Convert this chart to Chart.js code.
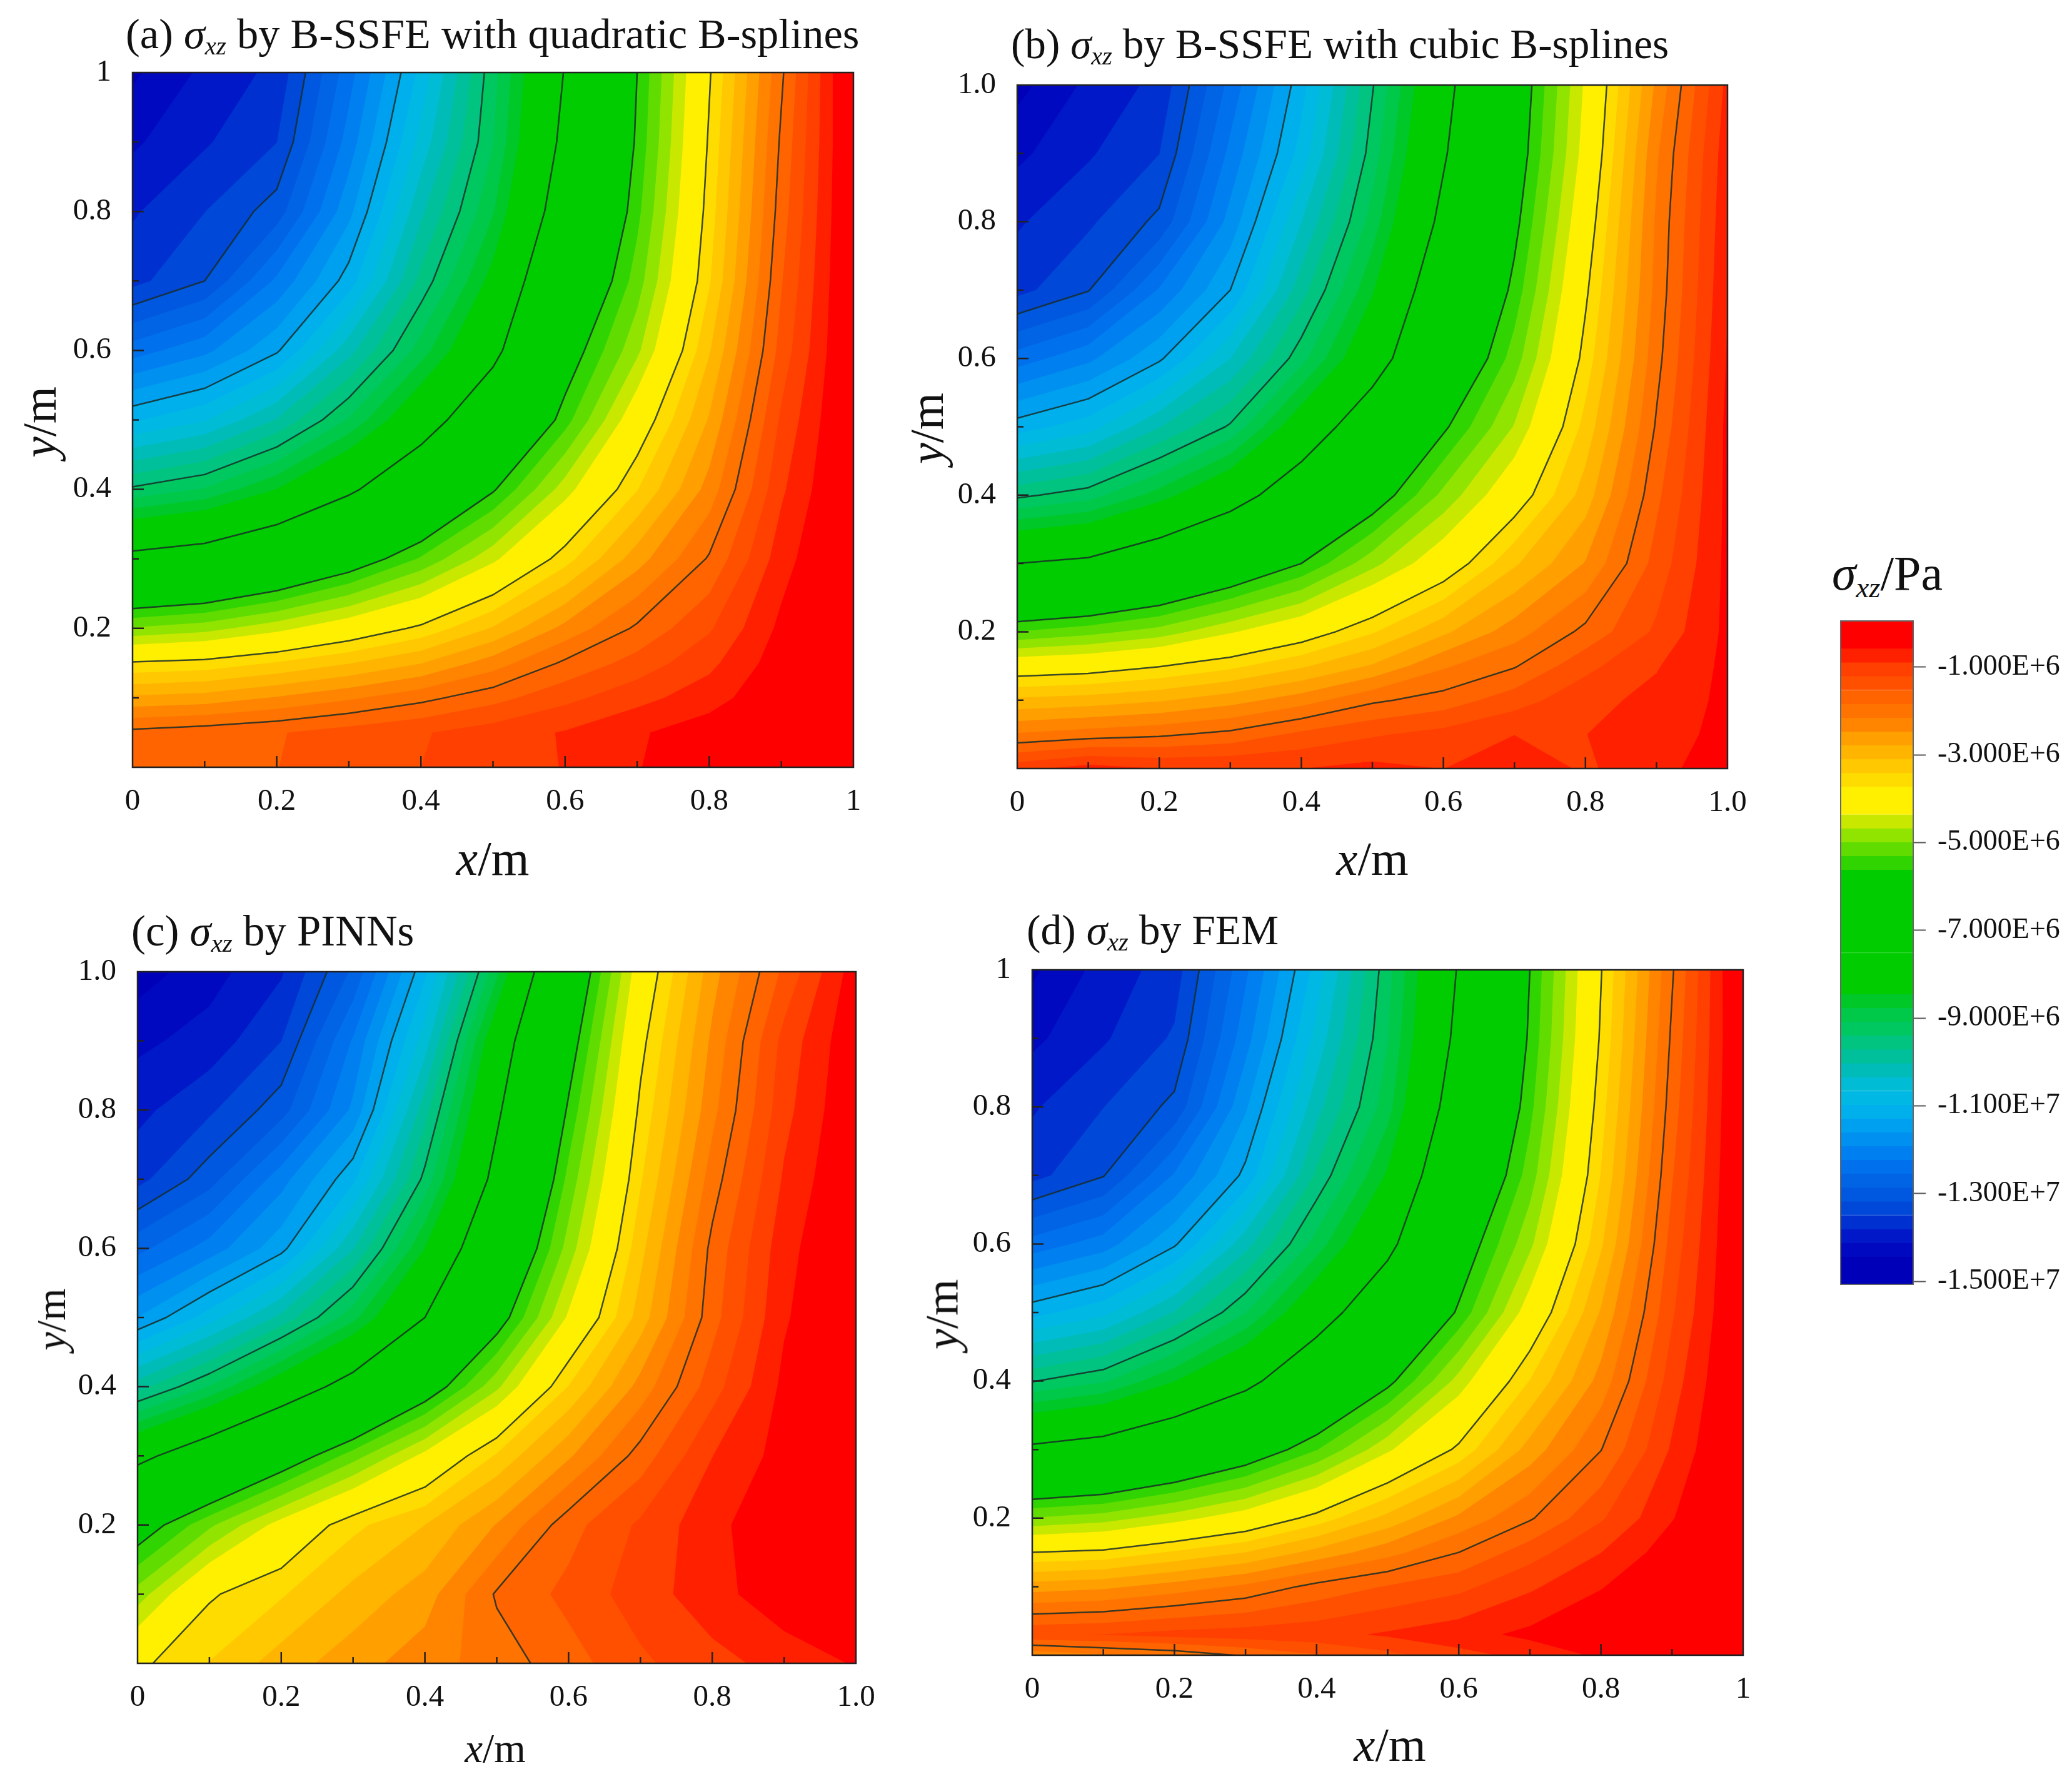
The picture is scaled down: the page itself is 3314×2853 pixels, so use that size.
<!DOCTYPE html>
<html>
<head>
<meta charset="utf-8">
<title>sigma_xz contours</title>
<script src="https://cdn.jsdelivr.net/npm/chart.js@4/dist/chart.umd.min.js"></script>
<style>
    html, body { margin: 0; background: #fff; }
    #page { position: relative; width: 3314px; height: 2853px; overflow: hidden; font-family: "Liberation Serif", serif; color: #111; }
    canvas { position: absolute; }
    .txt { position: absolute; line-height: 1; white-space: nowrap; }
    .txt sub { font-size: 0.6em; line-height: 0; vertical-align: -0.25em; }
</style>
</head>
<body>
<div id="page"></div>
<script>
// grid of sigma_xz, unit 1E6 Pa, rows run from y = 0 up to y = 1
const gridX = [0, 0.1, 0.2, 0.3, 0.4, 0.5, 0.6, 0.7, 0.8, 0.9, 1];

const rowsA = [0, 0.05, 0.1, 0.15, 0.2, 0.3, 0.4, 0.5, 0.6, 0.7, 0.8, 0.9, 1];
const sigmaA = [
    [-1.70, -1.62, -1.53, -1.37, -1.21, -1.05, -0.88, -0.60, -0.30, -0.10, 0],
    [-1.75, -1.65, -1.55, -1.38, -1.24, -1.05, -0.87, -0.62, -0.40, -0.20, 0],
    [-2.72, -2.65, -2.44, -2.21, -1.94, -1.64, -1.30, -1.00, -0.72, -0.30, -0.02],
    [-3.69, -3.61, -3.39, -3.12, -2.80, -2.31, -1.78, -1.40, -0.98, -0.40, -0.03],
    [-4.96, -4.80, -4.47, -4.07, -3.65, -3.07, -2.37, -1.78, -1.25, -0.50, -0.05],
    [-7.28, -7.07, -6.60, -5.99, -5.26, -4.44, -3.55, -2.61, -1.80, -0.72, -0.05],
    [-9.34, -9.05, -8.45, -7.65, -6.73, -5.67, -4.51, -3.43, -2.34, -0.95, -0.08],
    [-11.02, -10.69, -10.01, -9.05, -7.95, -6.75, -5.44, -4.05, -2.75, -1.15, -0.10],
    [-12.39, -12.01, -11.34, -10.15, -8.93, -7.75, -5.94, -4.75, -3.13, -1.40, -0.10],
    [-13.60, -13.18, -12.17, -11.14, -9.62, -8.30, -6.50, -5.15, -3.45, -1.55, -0.10],
    [-13.85, -13.50, -13.03, -11.70, -10.10, -8.80, -7.00, -5.40, -3.58, -1.68, -0.10],
    [-14.18, -13.85, -13.50, -12.10, -10.55, -9.10, -7.30, -5.55, -3.68, -1.78, -0.10],
    [-14.50, -14.05, -13.72, -12.37, -10.88, -9.20, -7.47, -5.62, -3.77, -1.90, -0.05]
];

const rowsB = [0, 0.05, 0.1, 0.15, 0.2, 0.3, 0.4, 0.5, 0.6, 0.7, 0.8, 0.9, 1];
const sigmaB = [
    [-1.00, -0.75, -0.90, -0.90, -0.90, -0.80, -0.90, -0.65, -0.95, -0.65, -0.45],
    [-2.12, -2.00, -1.90, -1.75, -1.45, -1.25, -1.10, -0.90, -0.90, -0.70, -0.50],
    [-3.03, -2.95, -2.82, -2.60, -2.30, -1.90, -1.70, -1.35, -1.00, -0.80, -0.50],
    [-4.03, -3.95, -3.75, -3.50, -3.15, -2.75, -2.20, -1.87, -1.30, -0.92, -0.50],
    [-5.29, -5.10, -4.85, -4.40, -3.99, -3.45, -2.85, -2.30, -1.75, -1.15, -0.50],
    [-7.51, -7.35, -6.85, -6.27, -5.62, -4.78, -4.05, -3.15, -2.45, -1.40, -0.50],
    [-9.48, -9.23, -8.63, -7.90, -6.95, -5.95, -4.90, -4.00, -2.95, -1.60, -0.50],
    [-11.13, -10.80, -10.05, -9.35, -8.10, -6.90, -5.70, -4.65, -3.30, -1.80, -0.50],
    [-12.40, -12.00, -11.35, -10.35, -9.20, -7.95, -6.40, -5.15, -3.60, -1.95, -0.55],
    [-13.60, -13.20, -12.20, -11.29, -9.85, -8.50, -6.85, -5.50, -3.80, -2.05, -0.60],
    [-13.85, -13.55, -13.10, -11.80, -10.35, -8.95, -7.30, -5.75, -4.00, -2.10, -0.65],
    [-14.20, -13.85, -13.50, -12.15, -10.85, -9.25, -7.60, -5.95, -4.20, -2.20, -0.70],
    [-14.55, -14.05, -13.72, -12.45, -11.10, -9.43, -7.80, -6.05, -4.30, -2.40, -0.80]
];

const rowsC = [0, 0.1, 0.2, 0.3, 0.4, 0.5, 0.6, 0.7, 0.8, 0.9, 1];
const sigmaC = [
    [-3.82, -3.40, -2.95, -2.60, -2.30, -2.00, -1.66, -1.27, -1.00, -0.78, -0.55],
    [-4.85, -3.78, -3.45, -3.00, -2.62, -1.80, -1.43, -1.05, -0.71, -0.35, -0.10],
    [-5.95, -5.06, -4.20, -3.50, -3.10, -2.45, -1.65, -1.15, -0.68, -0.30, -0.05],
    [-7.75, -6.90, -6.05, -5.14, -4.25, -3.37, -2.52, -1.70, -0.90, -0.45, -0.10],
    [-9.85, -9.07, -8.10, -7.15, -6.00, -4.75, -3.40, -2.35, -1.35, -0.50, -0.10],
    [-11.60, -10.82, -9.94, -8.88, -7.51, -5.90, -4.30, -2.95, -1.65, -0.62, -0.15],
    [-12.65, -12.10, -11.40, -10.05, -8.45, -6.60, -4.85, -3.20, -1.75, -0.70, -0.15],
    [-13.60, -13.00, -12.05, -11.05, -9.30, -7.25, -5.20, -3.45, -2.00, -0.85, -0.20],
    [-13.90, -13.55, -13.00, -11.85, -9.85, -7.65, -5.55, -3.65, -2.25, -1.00, -0.25],
    [-14.20, -14.00, -13.50, -12.20, -10.50, -8.05, -5.90, -3.85, -2.40, -1.10, -0.30],
    [-14.60, -14.25, -13.85, -12.80, -11.05, -8.85, -6.30, -4.10, -2.60, -1.45, -0.40]
];

const rowsD = [0, 0.03, 0.1, 0.15, 0.2, 0.3, 0.4, 0.5, 0.6, 0.7, 0.8, 0.9, 1];
const sigmaD = [
    [-2.40, -2.20, -2.05, -1.80, -1.55, -1.30, -1.00, -0.80, -0.52, -0.20, 0],
    [-1.25, -1.20, -1.10, -1.05, -1.00, -0.85, -0.70, -0.50, -0.30, -0.10, 0],
    [-2.63, -2.54, -2.33, -2.09, -1.74, -1.50, -1.30, -0.95, -0.60, -0.25, -0.02],
    [-3.73, -3.65, -3.37, -3.10, -2.68, -2.27, -1.84, -1.35, -0.90, -0.40, -0.03],
    [-4.97, -4.82, -4.50, -4.13, -3.60, -3.00, -2.40, -1.88, -1.25, -0.60, -0.05],
    [-7.35, -7.12, -6.65, -6.06, -5.32, -4.42, -3.65, -2.65, -1.85, -0.85, -0.05],
    [-9.42, -9.13, -8.47, -7.75, -6.72, -5.75, -4.55, -3.40, -2.35, -1.05, -0.08],
    [-11.09, -10.75, -10.01, -9.10, -7.95, -6.75, -5.55, -4.15, -2.75, -1.25, -0.10],
    [-12.42, -12.08, -11.34, -10.15, -8.95, -7.75, -6.00, -4.75, -3.15, -1.40, -0.10],
    [-13.60, -13.20, -12.20, -11.20, -9.65, -8.40, -6.55, -5.15, -3.40, -1.55, -0.10],
    [-13.85, -13.50, -13.10, -11.65, -10.15, -8.90, -7.00, -5.40, -3.55, -1.68, -0.10],
    [-14.20, -13.85, -13.45, -12.05, -10.55, -9.10, -7.30, -5.55, -3.68, -1.78, -0.10],
    [-14.50, -14.00, -13.65, -12.30, -10.85, -9.20, -7.45, -5.62, -3.75, -1.88, -0.05]
];

// levels of the thin black contour lines
const lineLevels = [-1.84, -3.73, -5.62, -7.51, -9.4, -11.29, -13.18];

// colour bands, top of the colour bar first
const bandEdges = [0.05, -0.265, -0.58, -0.895, -1.21, -1.525, -1.84, -2.155, -2.47, -2.785, -3.1, -3.415, -3.73,
    -4.045, -4.36, -4.675, -4.99, -5.305, -5.62, -5.935, -6.25, -6.565, -6.88, -7.195, -7.51, -7.825, -8.14, -8.455,
    -8.77, -9.085, -9.4, -9.715, -10.03, -10.345, -10.66, -10.975, -11.29, -11.605, -11.92, -12.235, -12.55, -12.865,
    -13.18, -13.495, -13.81, -14.125, -14.44, -14.755, -15.07];
const bandColors = ['#ff0000', '#ff0000', '#ff2000', '#ff4000', '#ff5000', '#ff6400', '#ff7400', '#ff8400', '#ffa000', '#ffb400',
    '#ffc800', '#ffdc00', '#fff000', '#fff000', '#c8e800', '#90e400', '#60dc00', '#30d400', '#00cc00', '#00cc00',
    '#00cc00', '#00cc00', '#00cc00', '#00cc00', '#00cc00', '#00cc00', '#00cc00', '#00c828', '#00c848', '#00c860',
    '#00c480', '#00c09c', '#00bcb8', '#00bcd4', '#00b8e4', '#00b0ec', '#00a0f0', '#0090f0', '#0080f0', '#0070ec',
    '#0064e4', '#0058e0', '#0048d8', '#0030d0', '#0018c8', '#0008c0', '#0000b8', '#0000b8'];

const barTicks = [-1, -3, -5, -7, -9, -11, -13, -15];
const barTickLabels = ['-1.000E+6', '-3.000E+6', '-5.000E+6', '-7.000E+6', '-9.000E+6', '-1.100E+7', '-1.300E+7', '-1.500E+7'];

const tickLabelsShort = ['0', '0.2', '0.4', '0.6', '0.8', '1'];
const tickLabelsLong = ['0', '0.2', '0.4', '0.6', '0.8', '1.0'];

const page = document.getElementById('page');
const FONT = '"Liberation Serif", serif';
const TICK_FONT = 49;

// clips one grid cell to the part at or below the level
function clipCell(c, level) {
    const out = [];
    for (let i = 0; i < 4; i++) {
        const a = c[i], b = c[(i + 1) % 4];
        const ina = a.v <= level, inb = b.v <= level;
        if (ina) out.push(a);
        if (ina !== inb) {
            const t = (level - a.v) / (b.v - a.v);
            out.push({ x: a.x + t * (b.x - a.x), y: a.y + t * (b.y - a.y) });
        }
    }
    return out;
}

function eachCell(rows, sigma, fn) {
    for (let j = 0; j < rows.length - 1; j++) {
        for (let i = 0; i < gridX.length - 1; i++) {
            fn([
                { x: gridX[i], y: rows[j], v: sigma[j][i] },
                { x: gridX[i + 1], y: rows[j], v: sigma[j][i + 1] },
                { x: gridX[i + 1], y: rows[j + 1], v: sigma[j + 1][i + 1] },
                { x: gridX[i], y: rows[j + 1], v: sigma[j + 1][i] }
            ]);
        }
    }
}

// contour line of one level as separate segments, NaN points break the line
function contourPoints(rows, sigma, level) {
    const pts = [];
    eachCell(rows, sigma, (c) => {
        const hits = [];
        for (let i = 0; i < 4; i++) {
            const a = c[i], b = c[(i + 1) % 4];
            if ((a.v <= level) !== (b.v <= level)) {
                const t = (level - a.v) / (b.v - a.v);
                hits.push({ x: a.x + t * (b.x - a.x), y: a.y + t * (b.y - a.y) });
            }
        }
        for (let k = 0; k + 1 < hits.length; k += 2) {
            pts.push(hits[k], hits[k + 1], { x: NaN, y: NaN });
        }
    });
    return pts;
}

const contourBands = {
    id: 'contourBands',
    beforeDatasetsDraw(chart, args, opts) {
        const { ctx, chartArea: area, scales: { x, y } } = chart;
        ctx.save();
        ctx.beginPath();
        ctx.rect(area.left, area.top, area.width, area.height);
        ctx.clip();
        ctx.fillStyle = bandColors[0];
        ctx.fillRect(area.left, area.top, area.width, area.height);
        for (let k = 1; k < bandColors.length; k++) {
            ctx.beginPath();
            eachCell(opts.rows, opts.sigma, (c) => {
                const poly = clipCell(c, bandEdges[k]);
                poly.forEach((p, i) => {
                    const px = x.getPixelForValue(p.x), py = y.getPixelForValue(p.y);
                    if (i === 0) ctx.moveTo(px, py); else ctx.lineTo(px, py);
                });
                if (poly.length) ctx.closePath();
            });
            ctx.fillStyle = bandColors[k];
            ctx.fill();
        }
        ctx.restore();
    }
};

// frame and the inward tick marks
const frameTicks = {
    id: 'frameTicks',
    afterDatasetsDraw(chart) {
        const { ctx, chartArea: area, scales: { x, y } } = chart;
        ctx.save();
        ctx.strokeStyle = '#222';
        ctx.lineWidth = 2.5;
        ctx.beginPath();
        for (let i = 1; i < 10; i++) {
            const len = i % 2 === 0 ? 18 : 10;
            const px = x.getPixelForValue(i / 10), py = y.getPixelForValue(i / 10);
            ctx.moveTo(px, area.bottom);
            ctx.lineTo(px, area.bottom - len);
            ctx.moveTo(area.left, py);
            ctx.lineTo(area.left + len, py);
        }
        ctx.stroke();
        ctx.strokeRect(area.left, area.top, area.width, area.height);
        ctx.restore();
    }
};

function addCanvas(left, top, w, h) {
    const c = document.createElement('canvas');
    c.width = w;
    c.height = h;
    c.style.left = left + 'px';
    c.style.top = top + 'px';
    page.appendChild(c);
    return c;
}

// axis keeps a fixed size and no label margins so the plot area lands on exact pixels
function fixBox(s, size) {
    if (s.isHorizontal()) s.height = size; else s.width = size;
    s.paddingLeft = s.paddingRight = s.paddingTop = s.paddingBottom = 0;
}

function addPanel(p) {
    const padL = 170, padR = 70, padT = 30, padB = 90;
    const w = p.right - p.left, h = p.bottom - p.top;
    const canvas = addCanvas(p.left - padL, p.top - padT, w + padL + padR, h + padT + padB);
    new Chart(canvas, {
        type: 'scatter',
        data: {
            datasets: lineLevels.map((level) => ({
                label: String(level),
                data: contourPoints(p.rows, p.sigma, level),
                showLine: true,
                spanGaps: false,
                pointRadius: 0,
                borderWidth: 2.5,
                borderCapStyle: 'round',
                borderColor: 'rgba(25,45,40,0.85)'
            }))
        },
        options: {
            responsive: false,
            animation: false,
            layout: { padding: { left: 0, right: padR, top: padT, bottom: 0 } },
            plugins: {
                legend: { display: false },
                tooltip: { enabled: false },
                contourBands: { rows: p.rows, sigma: p.sigma }
            },
            scales: {
                x: {
                    type: 'linear', min: 0, max: 1,
                    afterFit: (s) => fixBox(s, padB),
                    grid: { display: false }, border: { display: false },
                    ticks: {
                        stepSize: 0.2, maxRotation: 0, padding: 18, color: '#111', autoSkip: false,
                        font: { family: FONT, size: TICK_FONT },
                        callback: (v, i) => p.xLabels[i]
                    }
                },
                y: {
                    type: 'linear', min: 0, max: 1,
                    afterFit: (s) => fixBox(s, padL),
                    grid: { display: false }, border: { display: false },
                    ticks: {
                        stepSize: 0.2, padding: 26, color: '#111', autoSkip: false,
                        font: { family: FONT, size: TICK_FONT },
                        callback: (v, i) => i === 0 ? '' : p.yLabels[i]
                    }
                }
            }
        },
        plugins: [contourBands, frameTicks]
    });
}

addPanel({ left: 212, right: 1365, top: 116, bottom: 1227, rows: rowsA, sigma: sigmaA, xLabels: tickLabelsShort, yLabels: tickLabelsShort });
addPanel({ left: 1627, right: 2763, top: 136, bottom: 1229, rows: rowsB, sigma: sigmaB, xLabels: tickLabelsLong, yLabels: tickLabelsLong });
addPanel({ left: 220, right: 1369, top: 1554, bottom: 2660, rows: rowsC, sigma: sigmaC, xLabels: tickLabelsLong, yLabels: tickLabelsLong });
addPanel({ left: 1651, right: 2788, top: 1551, bottom: 2647, rows: rowsD, sigma: sigmaD, xLabels: tickLabelsShort, yLabels: tickLabelsShort });

// colour bar, one floating bar for each band
const barCanvas = addCanvas(2924, 973, 390, 1101);
new Chart(barCanvas, {
    type: 'bar',
    data: {
        labels: [''],
        datasets: bandColors.map((color, k) => ({
            data: [[bandEdges[k + 1], bandEdges[k]]],
            backgroundColor: color,
            borderColor: color,
            borderWidth: 1,
            borderSkipped: false,
            barPercentage: 1,
            categoryPercentage: 1
        }))
    },
    options: {
        responsive: false,
        animation: false,
        layout: { padding: { left: 20, right: 0, top: 20, bottom: 20 } },
        plugins: { legend: { display: false }, tooltip: { enabled: false } },
        scales: {
            x: {
                stacked: true,
                afterFit: (s) => fixBox(s, 0),
                grid: { display: false }, border: { display: false },
                ticks: { display: false }
            },
            y: {
                position: 'right',
                min: bandEdges[48], max: bandEdges[0],
                afterFit: (s) => fixBox(s, 254),
                afterBuildTicks: (s) => { s.ticks = barTicks.map((v) => ({ value: v })); },
                grid: { drawOnChartArea: false, drawTicks: true, tickLength: 20, tickColor: '#555', tickWidth: 2 },
                border: { display: false },
                ticks: {
                    padding: 19, color: '#111', autoSkip: false,
                    font: { family: FONT, size: 46 },
                    callback: (v, i) => barTickLabels[i]
                }
            }
        }
    },
    plugins: [{
        id: 'barFrame',
        afterDatasetsDraw(chart) {
            const { ctx, chartArea: a } = chart;
            ctx.save();
            ctx.strokeStyle = '#666';
            ctx.lineWidth = 2;
            ctx.strokeRect(a.left, a.top, a.width, a.height);
            ctx.restore();
        }
    }]
});

// titles and axis names are html so the italic sigma and subscript stay real text
const SIG = '<i>σ<sub>xz</sub></i>';
function addText(html, x, baseline, size, anchor) {
    const d = document.createElement('div');
    d.className = 'txt';
    d.innerHTML = html;
    d.style.fontSize = size + 'px';
    d.style.left = x + 'px';
    d.style.top = (baseline - size * 0.8375) + 'px';
    if (anchor === 'center') d.style.transform = 'translateX(-50%)';
    page.appendChild(d);
}
function addYName(html, cx, cy, size) {
    const d = document.createElement('div');
    d.className = 'txt';
    d.innerHTML = html;
    d.style.fontSize = size + 'px';
    d.style.left = cx + 'px';
    d.style.top = cy + 'px';
    d.style.transform = 'translate(-50%,-50%) rotate(-90deg)';
    page.appendChild(d);
}

addText('(a) ' + SIG + ' by B-SSFE with quadratic B-splines', 201, 77, 68.4);
addText('(b) ' + SIG + ' by B-SSFE with cubic B-splines', 1617, 93, 67.2);
addText('(c) ' + SIG + ' by PINNs', 210, 1513, 68.8);
addText('(d) ' + SIG + ' by FEM', 1642, 1511, 67.6);
addText('<i>x</i>/m', 788, 1399, 78, 'center');
addText('<i>x</i>/m', 2195, 1399, 77, 'center');
addText('<i>x</i>/m', 792, 2818, 65, 'center');
addText('<i>x</i>/m', 2223, 2816, 77, 'center');
addYName('<i>y</i>/m', 63, 675, 76);
addYName('<i>y</i>/m', 1482, 685, 76);
addYName('<i>y</i>/m', 82, 2110, 66);
addYName('<i>y</i>/m', 1506, 2102, 75);
addText(SIG + '/Pa', 2930, 943, 78);
</script>
</body>
</html>
